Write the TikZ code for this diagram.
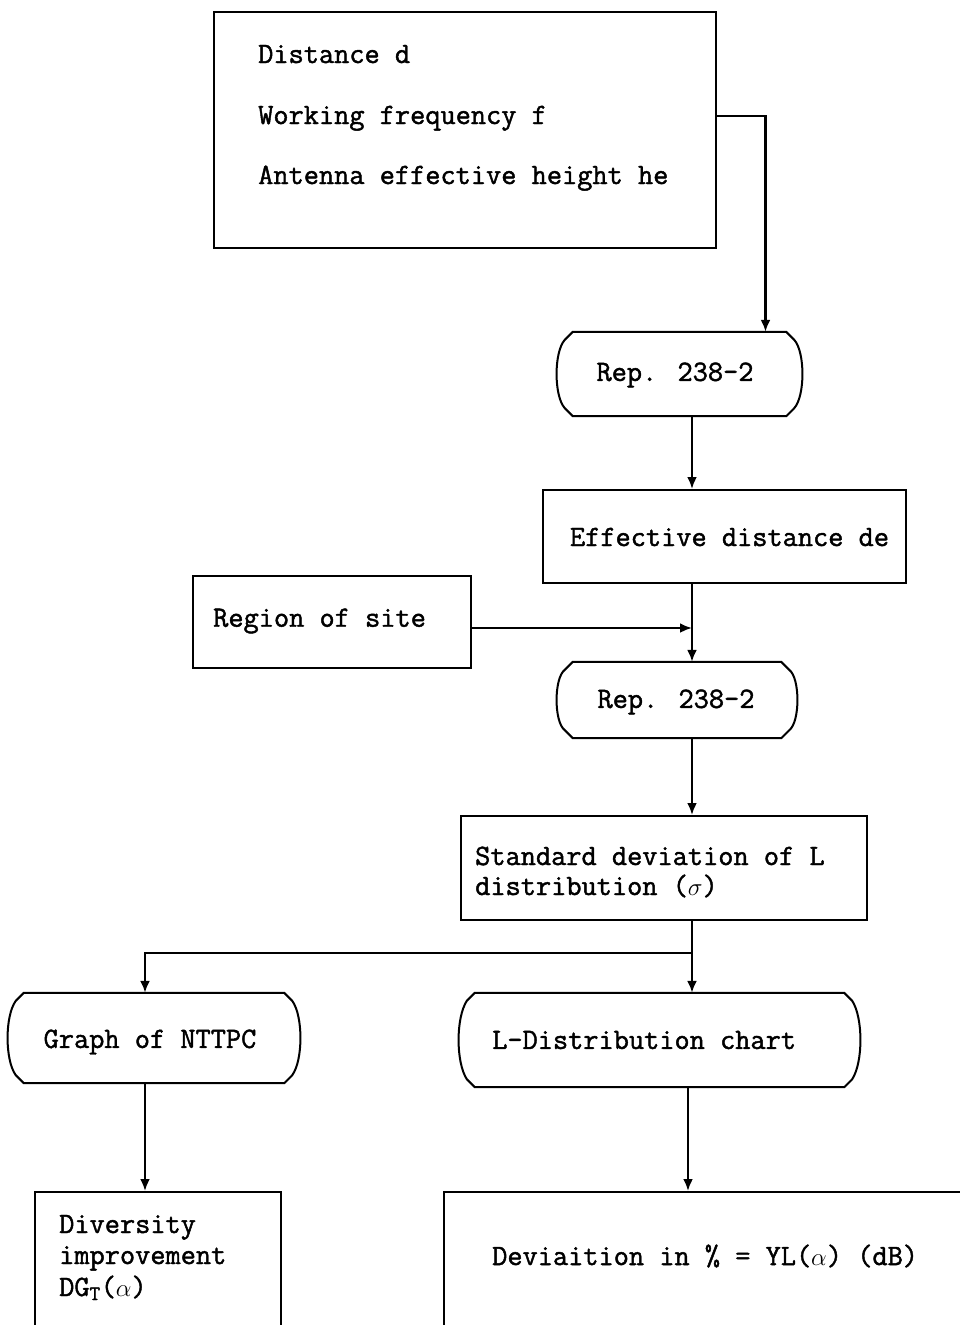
\documentclass[tikz,border=0pt]{standalone}
\usepackage{fontspec}
\usetikzlibrary{arrows.meta,calc}
\newfontfamily\tw{Latin Modern Mono}[FakeBold=1.5]
\begin{document}
\begin{tikzpicture}[x=1pt,y=-1pt,
  box/.style={draw, line width=2pt, rectangle, inner sep=0pt},
  term/.style={inner sep=0pt, rectangle},
  txt/.style={inner sep=0pt, font=\tw\fontsize{29.5}{30}\selectfont},
  conn/.style={line width=2.6pt},
  arr/.style={conn, -{Latex[length=12pt,width=10pt]}}]
\useasboundingbox (0,0) rectangle (960,1325);
\clip (0,0) rectangle (960,1325);
\newcommand{\termshape}[1]{%
  \draw[line width=2pt]
   ($(#1.north west)+(16,0)$) -- ($(#1.north east)+(-16,0)$)
   -- ($(#1.north east)+(-8,8)$)
   .. controls ($(#1.east)+(3,-22)$) and ($(#1.east)+(3,22)$) .. ($(#1.south east)+(-8,-8)$)
   -- ($(#1.south east)+(-16,0)$) -- ($(#1.south west)+(16,0)$)
   -- ($(#1.south west)+(8,-8)$)
   .. controls ($(#1.west)+(-3,22)$) and ($(#1.west)+(-3,-22)$) .. ($(#1.north west)+(8,8)$)
   -- cycle;}
% columns
\coordinate (col) at (692,0);
\coordinate (colL) at (145,0);
\coordinate (colR) at (688,0);
% nodes
\node[box, minimum width=502, minimum height=236] (in) at (465,130) {};
\node[txt, anchor=base west] (t1) at (258,63) {Distance d};
\node[txt, anchor=base west] (t2) at (258,124) {Working frequency f};
\node[txt, anchor=base west] (t3) at (258,184) {Antenna effective height he};

\node[term, minimum width=245, minimum height=84] (rep1) at (679.5,374) {};
\termshape{rep1}
\node[txt] at (675,375) {Rep. 238-2};

\node[box, minimum width=363, minimum height=93] (eff) at (724.5,536.5) {};
\node[txt] at (729.5,537) {Effective distance de};

\node[box, minimum width=278, minimum height=92] (reg) at (332,622) {};
\node[txt, anchor=west] at (213,621) {Region of site};

\node[term, minimum width=240, minimum height=76] (rep2) at (677,700) {};
\termshape{rep2}
\node[txt] at (676,702) {Rep. 238-2};

\node[box, minimum width=406, minimum height=104] (std) at (664,868) {};
\node[txt, anchor=base west] at (475,865) {Standard deviation of L};
\node[txt, anchor=base west] at (475,895) {distribution ($\sigma$)};

\node[term, minimum width=292, minimum height=90] (graph) at (154,1038) {};
\termshape{graph}
\node[txt] at (150,1042) {Graph of NTTPC};

\node[term, minimum width=401, minimum height=94] (ldist) at (659.5,1040) {};
\termshape{ldist}
\node[txt, anchor=west] at (492,1040) {L-Distribution chart};

\node[box, minimum width=246, minimum height=148] (div) at (158,1266) {};
\node[txt, anchor=base west] at (59,1233) {Diversity};
\node[txt, anchor=base west] at (59,1264) {improvement};
\node[txt, anchor=base west] at (59,1296) {DG\textsubscript{T}($\alpha$)};

\node[box, minimum width=531, minimum height=148] (dev) at (709.5,1266) {};
\node[txt, anchor=west] at (492,1256) {Deviaition in \% = YL($\alpha$) (dB)};

% connectors
\draw[arr] ([yshift=14pt]in.east) -| ([xshift=86pt]rep1.north);
\draw[arr] (rep1.south -| col) -- (eff.north -| col);
\draw[arr] (eff.south -| col) -- (rep2.north -| col);
\draw[arr] ([yshift=-6pt]reg.east) -- ([yshift=-6pt]reg.east -| col);
\draw[arr] (rep2.south -| col) -- (std.north -| col);
\draw[arr] (std.south -| col) -- (ldist.north -| col);
\coordinate (br) at (692,953);
\draw[arr] (br) -| (graph.north -| colL);
\draw[arr] (graph.south -| colL) -- (div.north -| colL);
\draw[arr] (ldist.south -| colR) -- (dev.north -| colR);
\end{tikzpicture}
\end{document}
